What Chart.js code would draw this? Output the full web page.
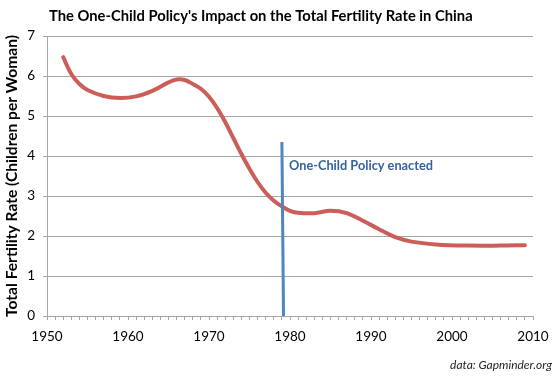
<!DOCTYPE html>
<html>
<head>
<meta charset="utf-8">
<script src="https://cdn.jsdelivr.net/npm/chart.js@4/dist/chart.umd.min.js"></script>
<style>
  html, body { margin: 0; padding: 0; background: #fff; }
  canvas { display: block; }
</style>
</head>
<body>
<canvas id="c" width="559" height="380"></canvas>
<script>
// ---- Data ----
const years = [1952, 1953, 1954, 1955, 1957, 1959, 1961, 1963, 1965, 1966, 1967, 1968, 1969, 1970,
               1971, 1972, 1973, 1974, 1975, 1976, 1977, 1978, 1979, 1980, 1981, 1983, 1985, 1987,
               1989, 1991, 1993, 1995, 1998, 2002, 2006, 2009];
const fertility = [6.47, 6.05, 5.8, 5.65, 5.5, 5.45, 5.49, 5.63, 5.84, 5.91, 5.9, 5.8, 5.68, 5.48,
                   5.2, 4.85, 4.45, 4.05, 3.68, 3.35, 3.08, 2.88, 2.74, 2.63, 2.58, 2.57, 2.63, 2.57,
                   2.38, 2.17, 1.97, 1.86, 1.79, 1.76, 1.76, 1.77];
const policyYears = [1979.0, 1979.2];
const policyValues = [4.35, 0];
const xTickLabels = [1950, 1960, 1970, 1980, 1990, 2000, 2010];
const yTickLabels = [0, 1, 2, 3, 4, 5, 6, 7];
const titleText = "The One-Child Policy's Impact on the Total Fertility Rate in China";
const yTitleText = "Total Fertility Rate (Children per Woman)";
const noteText = "One-Child Policy enacted";
const noteAt = { x: 1980, y: 3.75 };
const sourceText = "data: Gapminder.org";

const curvePoints = years.map((yr, i) => ({ x: yr, y: fertility[i] }));
const policyPoints = policyYears.map((yr, i) => ({ x: yr, y: policyValues[i] }));

function fitSize(ctx, text, target, style, family) {
  ctx.font = style + ' 20px ' + family;
  const w = ctx.measureText(text).width;
  return 20 * target / w;
}

const textPlugin = {
  id: 'texts',
  afterDraw(chart) {
    const ctx = chart.ctx;
    const fam = 'Lato, "Open Sans", sans-serif';
    ctx.save();
    // Title
    let s = fitSize(ctx, titleText, 424, 'bold', fam);
    ctx.font = 'bold ' + s + 'px ' + fam;
    ctx.fillStyle = '#000';
    ctx.textAlign = 'left';
    ctx.textBaseline = 'middle';
    ctx.fillText(titleText, 49, 16);
    // Y title
    s = fitSize(ctx, yTitleText, 282, 'bold', fam);
    ctx.save();
    ctx.translate(12, 176);
    ctx.rotate(-Math.PI / 2);
    ctx.font = 'bold ' + s + 'px ' + fam;
    ctx.textAlign = 'center';
    ctx.textBaseline = 'middle';
    ctx.fillText(yTitleText, 0, 0);
    ctx.restore();
    // Annotation
    const xs = chart.scales.x, ys = chart.scales.y;
    s = fitSize(ctx, noteText, 144, 'bold', fam);
    ctx.font = 'bold ' + s + 'px ' + fam;
    ctx.fillStyle = '#36629a';
    ctx.textAlign = 'left';
    ctx.textBaseline = 'middle';
    ctx.fillText(noteText, xs.getPixelForValue(noteAt.x) - 1, ys.getPixelForValue(noteAt.y));
    // Source
    s = fitSize(ctx, sourceText, 102, 'italic', fam);
    ctx.font = 'italic ' + s + 'px ' + fam;
    ctx.fillStyle = '#222';
    ctx.textAlign = 'right';
    ctx.fillText(sourceText, 552, 365);
    ctx.restore();
  }
};

new Chart(document.getElementById('c'), {
  type: 'line',
  data: {
    datasets: [
      {
        label: 'One-Child Policy',
        data: policyPoints,
        borderColor: '#4f86c0',
        borderWidth: 3,
        pointRadius: 0,
        tension: 0,
        order: 0
      },
      {
        label: 'Total Fertility Rate',
        data: curvePoints,
        borderColor: '#cc5e59',
        borderWidth: 4,
        borderCapStyle: 'round',
        borderJoinStyle: 'round',
        pointRadius: 0,
        tension: 0.4,
        order: 1
      }
    ]
  },
  options: {
    responsive: false,
    animation: false,
    devicePixelRatio: 1,
    layout: { padding: { top: 36, right: 26, left: 0, bottom: 0 } },
    plugins: { legend: { display: false }, tooltip: { enabled: false }, title: { display: false } },
    scales: {
      x: {
        type: 'linear',
        min: xTickLabels[0],
        max: xTickLabels[xTickLabels.length - 1],
        afterFit(scale) { scale.height = 64; },
        grid: { drawOnChartArea: false, drawTicks: true, tickLength: 4, color: '#a6a6a6' },
        border: { display: true, color: '#a6a6a6' },
        ticks: {
          stepSize: 1,
          autoSkip: false,
          maxRotation: 0,
          padding: 9,
          color: '#000',
          font: { family: 'Lato', size: 13.5 },
          callback: (v) => (xTickLabels.includes(v) ? String(v) : '')
        }
      },
      y: {
        min: yTickLabels[0],
        max: yTickLabels[yTickLabels.length - 1],
        afterFit(scale) { scale.width = 47; },
        grid: { drawOnChartArea: true, drawTicks: true, tickLength: 4, color: '#a6a6a6' },
        border: { display: true, color: '#a6a6a6' },
        ticks: {
          stepSize: 1,
          padding: 8,
          color: '#000',
          font: { family: 'Lato', size: 13.5 },
          callback: (v) => (yTickLabels.includes(v) ? String(v) : '')
        }
      }
    }
  },
  plugins: [textPlugin]
});
</script>
</body>
</html>
